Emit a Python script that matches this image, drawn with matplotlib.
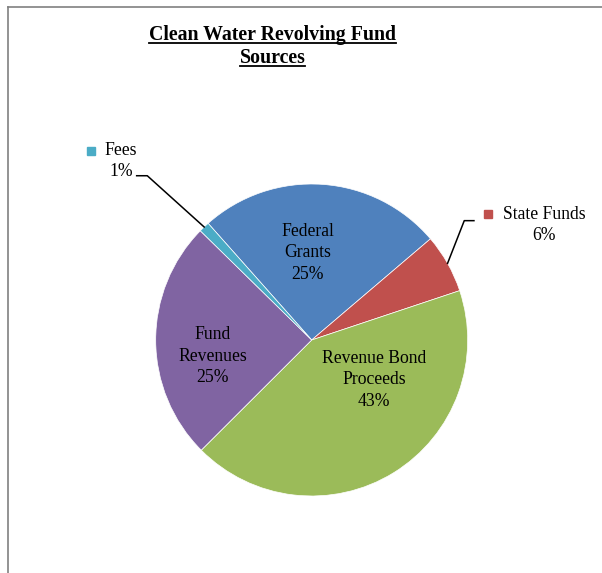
import matplotlib
matplotlib.use("Agg")
import matplotlib.pyplot as plt
import numpy as np
from matplotlib.lines import Line2D

plt.rcParams['font.family'] = ['Liberation Serif', 'DejaVu Serif']

# ---------------- data ---------------- #
categories = ["Federal\nGrants", "State Funds", "Revenue Bond\nProceeds", "Fund\nRevenues", "Fees"]
shares = [25.3, 6.1, 42.6, 24.8, 1.1]
colors = ["#4F81BD", "#C0504D", "#9BBB59", "#8064A2", "#4BACC6"]
title_lines = ["Clean Water Revolving Fund", "Sources"]

W, H = 602, 573
fig = plt.figure(figsize=(W / 100, H / 100), dpi=100)

# pie centre / radius in pixels
cx, cy, r = 311.7, 340, 156
ax = fig.add_axes([(cx - r) / W, (H - cy - r) / H, 2 * r / W, 2 * r / H])
wedges, _ = ax.pie(shares, colors=colors, startangle=131.6, counterclock=False,
                   radius=1, wedgeprops=dict(edgecolor="white", linewidth=0.5))
ax.set_xlim(-1, 1)
ax.set_ylim(-1, 1)
ax.set_aspect("equal")
ax.axis("off")

total = sum(shares)
pct = [f"{v / total * 100:.0f}%" for v in shares]
LBL = dict(fontsize=12.7, linespacing=1.32)

# inside labels
inside = {0: (-0.024, 0.558), 2: (0.399, -0.256), 3: (-0.633, -0.103)}
for i, (x, y) in inside.items():
    ax.text(x, y, f"{categories[i]}\n{pct[i]}", ha="center", va="center", **LBL)

# outside labels with leader lines
def mid_point(w):
    a = np.deg2rad((w.theta1 + w.theta2) / 2)
    return np.cos(a), np.sin(a)

outside = {
    4: dict(text=(-1.221, 1.148), sq=(-1.415, 1.213), end=(-1.122, 1.053), elbow=(-1.054, 1.053)),
    1: dict(text=(1.489, 0.737), sq=(1.132, 0.806), end=(1.040, 0.765), elbow=(0.978, 0.765)),
}
for i, o in outside.items():
    ax.text(*o["text"], f"{categories[i]}\n{pct[i]}", ha="center", va="center",
            clip_on=False, **LBL)
    ax.plot(*o["sq"], marker="s", markersize=6, color=colors[i], clip_on=False)
    mx, my = mid_point(wedges[i])
    ax.plot([o["end"][0], o["elbow"][0], mx], [o["end"][1], o["elbow"][1], my],
            color="black", linewidth=1.1, clip_on=False)

# title with underline
fig.canvas.draw()
renderer = fig.canvas.get_renderer()
for line, ypix in zip(title_lines, [35, 58]):
    t = fig.text(272.5 / W, 1 - ypix / H, line, ha="center", va="center",
                 fontsize=14.3, fontweight="bold")
    bb = t.get_window_extent(renderer)
    uy = (bb.y0 + 2) / H
    fig.add_artist(Line2D([bb.x0 / W, bb.x1 / W], [uy, uy], color="black", linewidth=1.3))

# chart border (left and top visible)
fig.add_artist(Line2D([8 / W, 8 / W], [0, 1 - 7 / H], color="#808080", linewidth=1.2))
fig.add_artist(Line2D([8 / W, 1], [1 - 7 / H, 1 - 7 / H], color="#808080", linewidth=1.2))

fig.savefig("out.png", dpi=100)
